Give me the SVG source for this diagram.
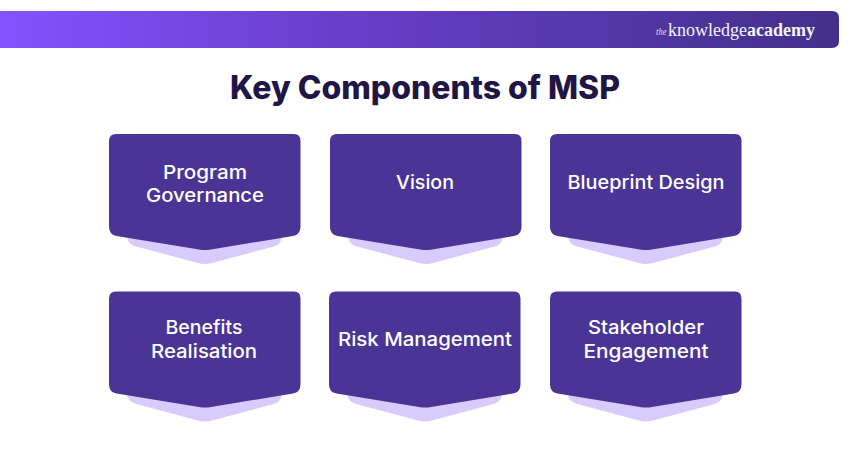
<svg xmlns="http://www.w3.org/2000/svg" width="850" height="450" viewBox="0 0 850 450">
<style>
.t{font-family:"Inter","Liberation Sans",sans-serif;font-size:18.5px;font-weight:500;fill:#fff;text-anchor:middle}
.h{font-family:"Inter","Liberation Sans",sans-serif;font-size:32px;font-weight:800;fill:#1f1646;text-anchor:middle}
.c{fill:#4a3596}.s{fill:#d8ccff}
.l{font-family:"Liberation Serif",serif;fill:#fff}
</style>
<defs>
<linearGradient id="g" x1="0" y1="0" x2="1" y2="0"><stop offset="0" stop-color="#8452ff"/><stop offset="0.4" stop-color="#683fcb"/><stop offset="1" stop-color="#43308a"/></linearGradient>
<g id="card">
<path class="s" d="M18 100H173V103Q172 111 163 113L103 129Q96 131 89 129L29 113Q19 111 18 103Z"/>
<path class="c" d="M7 0H185Q191.500 0 191.500 7V93Q191.500 100.500 184 102L102 115.500Q96 116.500 90 115.500L7.500 102Q0 100.500 0 93V7Q0 0 7 0Z"/>
</g>
</defs>
<rect width="850" height="450" fill="#fff"/>
<path fill="url(#g)" d="M0 11H832Q839 11 839 18V41Q839 48 832 48H0Z"/>
<g id="logo"><text class="l" x="656" y="35" font-size="10" font-style="italic" opacity="0.8" textLength="10.500" lengthAdjust="spacingAndGlyphs">the</text><text class="l" x="668" y="36" font-size="18" textLength="147" lengthAdjust="spacingAndGlyphs" opacity="0.95">knowledge<tspan font-weight="700">academy</tspan></text></g>
<text class="h" x="425" y="99" textLength="390" lengthAdjust="spacingAndGlyphs">Key Components of MSP</text>
<g id="connectors"/>
<g id="n1" transform="translate(109 134)"><use href="#card"/><text class="t" x="96" y="45" textLength="84" lengthAdjust="spacingAndGlyphs">Program</text><text class="t" x="96" y="68" textLength="118" lengthAdjust="spacingAndGlyphs">Governance</text></g>
<g id="n2" transform="translate(330 134)"><use href="#card"/><text class="t" x="95" y="55" textLength="58" lengthAdjust="spacingAndGlyphs">Vision</text></g>
<g id="n3" transform="translate(550 134)"><use href="#card"/><text class="t" x="96" y="55" textLength="157" lengthAdjust="spacingAndGlyphs">Blueprint Design</text></g>
<g id="n4" transform="translate(109 291.500)"><use href="#card"/><text class="t" x="95" y="42" textLength="77" lengthAdjust="spacingAndGlyphs">Benefits</text><text class="t" x="95" y="66" textLength="106" lengthAdjust="spacingAndGlyphs">Realisation</text></g>
<g id="n5" transform="translate(329 291.500)"><use href="#card"/><text class="t" x="96" y="54" textLength="174" lengthAdjust="spacingAndGlyphs">Risk Management</text></g>
<g id="n6" transform="translate(550 291.500)"><use href="#card"/><text class="t" x="96" y="42" textLength="116" lengthAdjust="spacingAndGlyphs">Stakeholder</text><text class="t" x="96" y="66" textLength="125" lengthAdjust="spacingAndGlyphs">Engagement</text></g>
</svg>
